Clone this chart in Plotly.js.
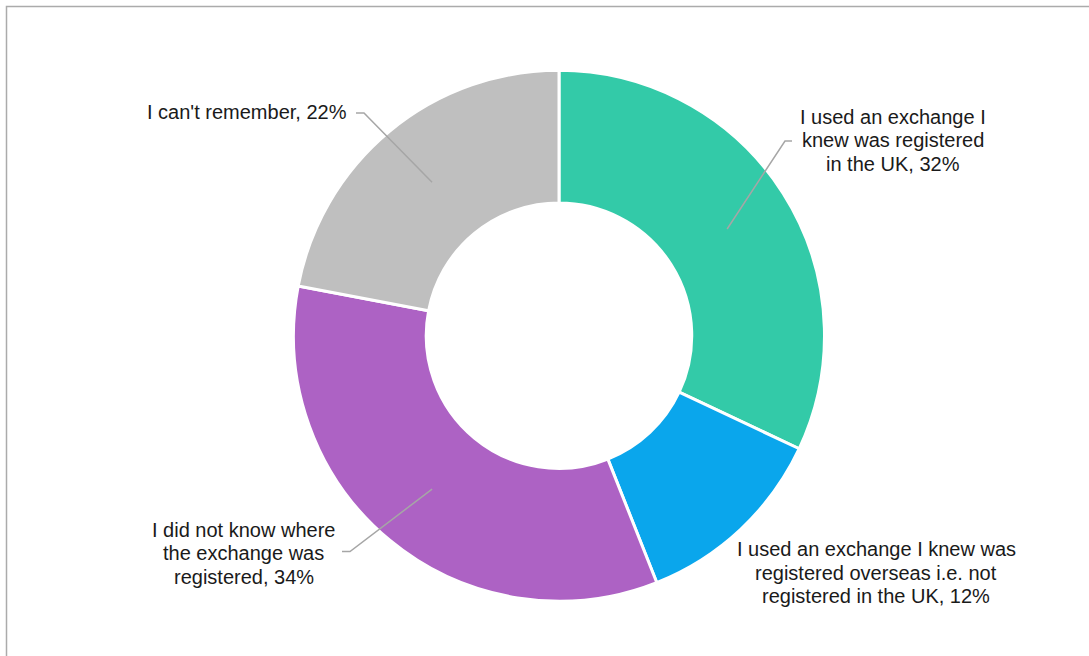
<!DOCTYPE html>
<html>
<head>
<meta charset="utf-8">
<script src="https://cdn.plot.ly/plotly-3.0.1.min.js"></script>
<style>
  html, body { margin: 0; padding: 0; background: #fff; }
  #chart { width: 1089px; height: 656px; }
</style>
</head>
<body>
<div id="chart"></div>
<script>
// ---- Data ----
const categories = [
  "I used an exchange I knew was registered in the UK",
  "I used an exchange I knew was registered overseas i.e. not registered in the UK",
  "I did not know where the exchange was registered",
  "I can't remember"
];
const values = [32, 12, 34, 22];
const colors = ["#33CAA8", "#0AA6EC", "#AD62C4", "#BFBFBF"];
const labelLines = [
  ["I used an exchange I", "knew was registered", "in the UK, 32%"],
  ["I used an exchange I knew was", "registered overseas i.e. not", "registered in the UK, 12%"],
  ["I did not know where", "the exchange was", "registered, 34%"],
  ["I can't remember, 22%"]
];

// ---- Layout geometry (pixels) ----
const W = 1089, H = 656;
const CX = 559, CY = 335.7, R_OUT = 265.5, HOLE = 0.5;
const LINE_H = 23.5;
// label anchor (x, first-line centre y, anchor) and leader elbow/end
const labelPos = [
  { x: 893, y: 116.7, anchor: "center", leader: [[785, 141], [792, 141]] },
  { x: 876, y: 549, anchor: "center", leader: null },
  { x: 243.7, y: 529.7, anchor: "center", leader: [[350, 551.5], [342, 551.5]] },
  { x: 349, y: 112, anchor: "right", leader: [[364, 113], [356, 113]] }
];

const px = x => x / W;
const py = y => 1 - y / H;

// ---- Pie trace ----
const trace = {
  type: "pie",
  labels: categories,
  values: values,
  hole: HOLE,
  sort: false,
  direction: "clockwise",
  rotation: 0,
  textinfo: "none",
  hoverinfo: "none",
  showlegend: false,
  marker: { colors: colors, line: { color: "#ffffff", width: 3 } },
  domain: {
    x: [px(CX - R_OUT), px(CX + R_OUT)],
    y: [py(CY + R_OUT), py(CY - R_OUT)]
  }
};

// ---- Annotations and leader lines computed from the data ----
const total = values.reduce((a, b) => a + b, 0);
const annotations = [];
const shapes = [];
const rMid = R_OUT * (1 + HOLE) / 2;
let cum = 0;
values.forEach((v, i) => {
  const midFrac = (cum + v / 2) / total;
  cum += v;
  const ang = midFrac * 2 * Math.PI;
  const sx = CX + rMid * Math.sin(ang);
  const sy = CY - rMid * Math.cos(ang);
  const lp = labelPos[i];
  if (lp.leader) {
    let path = `M ${px(sx)} ${py(sy)}`;
    lp.leader.forEach(p => { path += ` L ${px(p[0])} ${py(p[1])}`; });
    shapes.push({
      type: "path", xref: "paper", yref: "paper", path: path,
      line: { color: "#A6A6A6", width: 1.5 }
    });
  }
  labelLines[i].forEach((t, k) => {
    annotations.push({
      xref: "paper", yref: "paper",
      x: px(lp.x), y: py(lp.y + k * LINE_H),
      xanchor: lp.anchor, yanchor: "middle",
      text: t, showarrow: false,
      font: { family: "Liberation Sans, Arial, sans-serif", size: 20, color: "#1a1a1a" }
    });
  });
});

// chart frame
shapes.push({
  type: "rect", xref: "paper", yref: "paper",
  x0: px(6.5), x1: 1.05, y0: -0.05, y1: py(6.5),
  line: { color: "#ABABAB", width: 1.5 }, fillcolor: "rgba(0,0,0,0)"
});

const layout = {
  width: W, height: H,
  margin: { l: 0, r: 0, t: 0, b: 0, pad: 0 },
  paper_bgcolor: "#ffffff",
  plot_bgcolor: "#ffffff",
  showlegend: false,
  annotations: annotations,
  shapes: shapes,
  font: { family: "Liberation Sans, Arial, sans-serif" }
};

Plotly.newPlot("chart", [trace], layout, { displayModeBar: false, staticPlot: true });
</script>
</body>
</html>
